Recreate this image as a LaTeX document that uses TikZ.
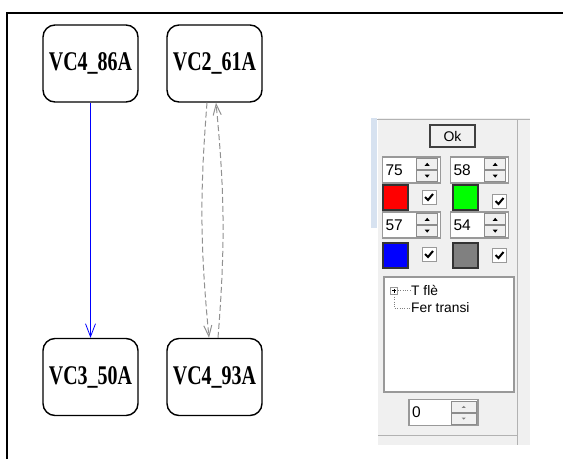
\documentclass[tikz,border=0pt]{standalone}
\usepackage{fontspec}
\setmainfont{Liberation Serif}
\setsansfont{Liberation Sans}
\newfontfamily\boxfont[FakeStretch=0.74]{Liberation Serif}
\usetikzlibrary{arrows.meta, positioning}

\definecolor{panelgray}{RGB}{240,240,240}
\definecolor{dashgray}{RGB}{145,145,145}
\definecolor{stripblue}{RGB}{215,226,240}

\begin{document}
\begin{tikzpicture}[x=1pt, y=-1pt, node distance=124pt, auto]
    \tikzstyle{block} = [rectangle, draw, line width=1.4pt, rounded corners=12pt, minimum width=95pt, minimum height=77pt, inner sep=0pt, font=\boxfont\bfseries\fontsize{27}{27}\selectfont]
    \tikzstyle{line} = [draw, line width=0.8pt, -{Straight Barb[length=13pt, width=10pt]}]
    \tikzstyle{dline} = [draw, dashgray, dashed, dash pattern=on 6pt off 3pt, line width=1pt, -{Straight Barb[length=11pt, width=8pt]}]
    \tikzstyle{field} = [rectangle, draw=gray!80, line width=1.2pt, fill=white, inner sep=3pt, minimum height=26pt, align=left, font=\sffamily\fontsize{15.5}{15.5}\selectfont]
    \tikzstyle{spinbtn} = [rectangle, draw=gray!90, line width=0.8pt, fill=panelgray, minimum width=21pt, minimum height=11pt, inner sep=0pt]
    \tikzstyle{swatch} = [rectangle, draw=black!80, line width=1.3pt, minimum size=25pt, inner sep=0pt]
    \tikzstyle{chk} = [rectangle, draw=gray!80, line width=1pt, fill=white, minimum size=14pt, inner sep=0pt]
    \tikzstyle{treetext} = [anchor=west, inner sep=0pt, font=\sffamily\fontsize{13.8}{13.8}\selectfont]

    \useasboundingbox (0,0) rectangle (563,459);
    \draw [line width=1.6pt] (7,459) -- (7,13) -- (563,13);

    % graph
    \node [block] (a86) at (90.5,63.5) {VC4\_86A};
    \node [block, right of=a86] (a61) {VC2\_61A};
    \node [block, below of=a86, node distance=313.5pt] (a50) {VC3\_50A};
    \node [block, right of=a50] (a93) {VC4\_93A};

    \path [line, blue] (a86) -- (a50);
    \path [dline] ([xshift=-7.5pt]a61.south) to [bend right=5] ([xshift=-5.5pt]a93.north);
    \path [dline] ([xshift=3.5pt]a93.north) to [bend right=5] ([xshift=1.5pt]a61.south);

    % settings panel
    \fill [panelgray] (378,118) rectangle (530,445);
    \fill [stripblue] (371,118) rectangle (377,228);
    \draw [gray!60] (377,119) -- (530,119);
    \draw [gray!60] (517,119) -- (517,445);
    \draw [gray!60] (378,435) -- (517,435);

    \node [rectangle, draw=black!75, line width=1.2pt, fill=panelgray, minimum width=45pt, minimum height=22pt, font=\sffamily\fontsize{14}{14}\selectfont] (ok) at (452.5,136) {Ok};

    \foreach \v/\x/\y in {75/411.5/170, 58/479.5/170, 57/411.5/225, 54/479.5/225} {
        \node [field, text width=52pt] (s\v) at (\x,\y) {\v};
        \node [spinbtn, anchor=north east] (s\v up) at ([shift={(-3pt,-2pt)}]s\v.north east) {};
        \node [spinbtn, anchor=north] (s\v dn) at (s\v up.south) {};
        \fill ([shift={(-2.5pt,-1.5pt)}]s\v up.center) -- ++(5pt,0) -- ++(-2.5pt,3pt) -- cycle;
        \fill ([shift={(-2.5pt,1.5pt)}]s\v dn.center) -- ++(5pt,0) -- ++(-2.5pt,-3pt) -- cycle;
    }

    \node [swatch, fill=red] (red) at (395.5,197.5) {};
    \node [swatch, fill=green] (green) at (465.5,197.5) {};
    \node [swatch, fill=blue] (blue) at (395.5,255.5) {};
    \node [swatch, fill=gray] (grey) at (465.5,255.5) {};

    \foreach \c/\x/\y in {c1/429/197, c2/499.5/201, c3/429/254, c4/499.5/255} {
        \node [chk] (\c) at (\x,\y) {};
        \draw [line width=2pt] ([shift={(-4pt,0pt)}]\c.center) -- ([shift={(-1pt,-3pt)}]\c.center) -- ([shift={(4pt,3pt)}]\c.center);
    }

    % tree
    \node [rectangle, draw=gray!80, line width=1.2pt, fill=white, minimum width=130pt, minimum height=115pt] (tree) at (449,334.5) {};
    \node [rectangle, draw=gray!80, line width=0.6pt, minimum size=7pt, inner sep=0pt] (plus) at (394,290.5) {};
    \draw [line width=0.6pt] ([xshift=-2pt]plus.center) -- ([xshift=2pt]plus.center) ([yshift=-2pt]plus.center) -- ([yshift=2pt]plus.center);
    \node [treetext] (t1) at (411,290.5) {T flè};
    \node [treetext] (t2) at (411,308) {Fer transi};
    \draw [gray, dotted] (plus.east) -- (t1.west);
    \draw [gray, dotted] (plus.south) |- (t2.west);

    % bottom spin
    \node [field, text width=63pt] (s0) at (443.5,412.5) {0};
    \node [spinbtn, minimum width=25pt, anchor=north east] (s0up) at ([shift={(-2pt,-2pt)}]s0.north east) {};
    \node [spinbtn, minimum width=25pt, anchor=north] (s0dn) at (s0up.south) {};
    \fill [gray] ([shift={(-2pt,-1pt)}]s0up.center) -- ++(4pt,0) -- ++(-2pt,2pt) -- cycle;
    \fill [gray] ([shift={(-2pt,1pt)}]s0dn.center) -- ++(4pt,0) -- ++(-2pt,-2pt) -- cycle;
\end{tikzpicture}
\end{document}
